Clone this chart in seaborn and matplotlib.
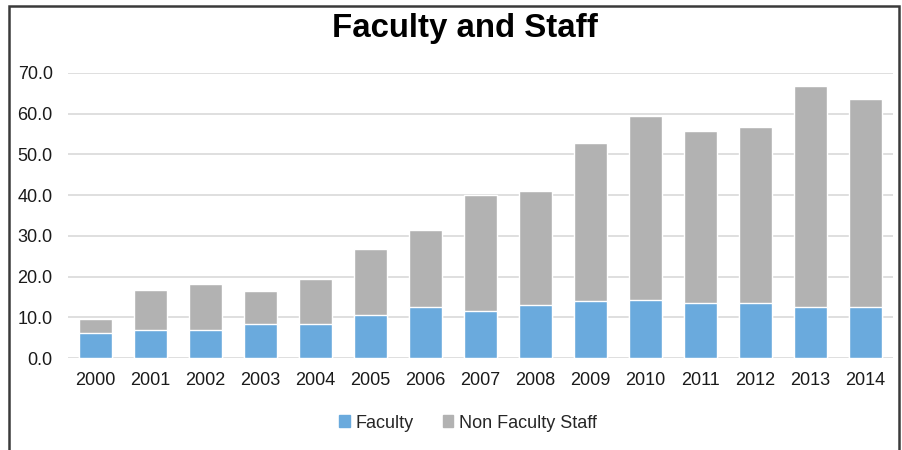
import pandas as pd
import matplotlib
matplotlib.use('Agg')
import matplotlib.pyplot as plt
import matplotlib.patches as mpatches
import seaborn as sns

# Values
years = ['2000', '2001', '2002', '2003', '2004', '2005', '2006', '2007',
         '2008', '2009', '2010', '2011', '2012', '2013', '2014']
faculty = [6.3, 6.8, 6.8, 8.5, 8.5, 10.7, 12.6, 11.7, 13.1, 14.0, 14.4, 13.6, 13.6, 12.6, 12.6]
non_faculty = [3.2, 10.0, 11.4, 7.9, 11.0, 16.1, 18.8, 28.4, 28.0, 38.9, 45.0, 42.1, 43.1, 54.1, 50.9]

blue = '#6aaadd'
gray = '#b2b2b2'

data = pd.DataFrame({'year': years, 'Faculty': faculty, 'Non Faculty Staff': non_faculty})
data['total'] = data['Faculty'] + data['Non Faculty Staff']

sns.set_style('white')
plt.rcParams['font.family'] = ['Liberation Sans', 'DejaVu Sans']

fig = plt.figure(figsize=(9.02, 4.5), dpi=100)
ax = fig.add_axes([0.0754, 0.204, 0.9146, 0.634])

# Stacked bars: draw the total in gray, then faculty on top in blue
sns.barplot(data=data, x='year', y='total', color=gray, width=0.6,
            saturation=1, ax=ax, zorder=3)
sns.barplot(data=data, x='year', y='Faculty', color=blue, width=0.6,
            saturation=1, ax=ax, zorder=4)

ax.set_ylim(0, 70)
ax.set_xlim(-0.5, len(years) - 0.5)
ax.set_yticks(range(0, 71, 10))
ax.set_yticklabels([f'{v:.1f}' for v in range(0, 71, 10)])
ax.yaxis.grid(True, color='#d9d9d9', linewidth=1.2, zorder=0)
ax.set_axisbelow(True)
for s in ax.spines.values():
    s.set_visible(False)
ax.tick_params(axis='y', length=0, pad=11, labelsize=13, labelcolor='#1a1a1a')
ax.tick_params(axis='x', length=0, pad=10, labelsize=13, labelcolor='#1a1a1a')
ax.set_xlabel('')
ax.set_ylabel('')

fig.text(465 / 902, 1 - 28 / 450, 'Faculty and Staff', ha='center', va='center',
         fontsize=23.8, fontweight='bold', color='black')

handles = [mpatches.Patch(color=blue, label='Faculty'),
           mpatches.Patch(color=gray, label='Non Faculty Staff')]
fig.legend(handles=handles, loc='center', bbox_to_anchor=(468 / 902, 1 - 423 / 450),
           ncol=2, frameon=False, fontsize=13, handlelength=0.6, handleheight=0.6,
           handletextpad=0.3, columnspacing=1.6)

# Outer frame of the chart (bottom edge runs past the image)
frame = mpatches.Rectangle((9 / 902, -0.1), 890 / 902, 1.1 - 6 / 450,
                           transform=fig.transFigure, fill=False,
                           edgecolor='#3a3a3a', linewidth=1.8, clip_on=False)
fig.patches.append(frame)

plt.savefig('out.png', dpi=100)
